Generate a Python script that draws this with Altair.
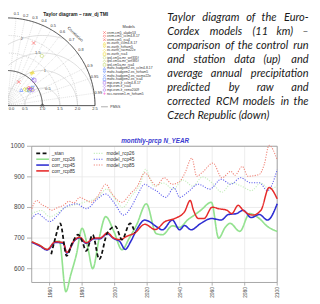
import altair as alt
import pandas as pd

# ================= Taylor diagram (top left) =================
TAYLOR_TITLE = "Taylor diagram \u2013 raw_dj TMI"
LEGEND_TITLE = "Models"
MODELS = [
    "cnrm-cm5_aladin53", "cnrm-cm5_cclm4-8-17", "cnrm-cm5_rca4",
    "ec-earth_cclm4-8-17", "ec-earth_hirham5", "ec-earth_racmo22e", "ec-earth_rca4",
    "ipsl-cm5a-mr_wrf331f", "ipsl-cm5a-mr_wrf381f", "ipsl-cm5a-mr_rca4",
    "mohc-hadgem2-es_cclm4-8-17", "mohc-hadgem2-es_hirham5",
    "mohc-hadgem2-es_racmo22e", "mohc-hadgem2-es_rca4",
    "mpi-esm-lr_cclm4-8-17", "mpi-esm-lr_rca4", "mpi-esm-lr_remo2009",
    "ncc-noresm1-m_hirham5",
]
MODEL_STD = [0.749, 0.795, 1.937, 1.196, 1.141, 0.679, 0.827, 1.725, 0.747,
             0.718, 0.598, 0.882, 1.052, 0.768, 1.054, 0.802, 0.844, 0.798]
MODEL_CORR = [0.434, 0.767, 0.387, 0.604, 0.608, 0.722, 0.822, 0.570, 0.777,
              0.780, 0.669, 0.816, 0.684, 0.820, 0.730, 0.810, 0.853, 0.789]
X_SHAPE = "M-1,-1L1,1M-1,1L1,-1"
PLUS_SHAPE = "M-1,0L1,0M0,-1L0,1"
MODEL_SHAPES = [X_SHAPE, "diamond", X_SHAPE,
                "triangle-up", "triangle-down", "diamond", "square",
                "circle", "diamond", "square",
                "triangle-up", "triangle-down", X_SHAPE, "square",
                "square", "diamond", "circle",
                PLUS_SHAPE]
MODEL_COLORS = (["#ff1a1a"] * 3 + ["#ecd200"] * 4 + ["#b2cf45"] * 3 +
                ["#2f66ff"] * 4 + ["#8a3fe8"] * 3 + ["#ff33cc"])
STD_TICKS = [0.0, 0.5, 1.0, 1.5, 2.0, 2.5]
STD_ARCS = [0.5, 1.5, 2.0]
REF_STD = 1.0
MAX_STD = 2.5
CORR_TICKS = [0.1, 0.2, 0.3, 0.4, 0.5, 0.6, 0.7, 0.8, 0.9, 0.95, 0.99]
RMS_ARCS = [0.5, 1.0, 1.5, 2.0]
RMS_LABELS = ["0.5", "1", "1.5", "2"]
RMS_LABEL_DEG = [72, 86, 95, 107]
REF_LABEL = "PMSS"

# ================= caption (top right) =================
CAPTION = [
    "Taylor diagram of the Euro-",
    "Cordex models (11 km) \u2013",
    "comparison of the control run",
    "and station data (up) and",
    "average annual precipitation",
    "predicted by raw and",
    "corrected RCM models in the",
    "Czech Republic (down)",
]

# ================= line chart (bottom) =================
CHART_TITLE = "monthly-prcp N_YEAR"
X_TICKS = [1960, 1980, 2000, 2020, 2040, 2060, 2080, 2100]
Y_TICKS = [600, 700, 800, 900, 1000]
X_DOMAIN = [1949, 2100]
Y_DOMAIN = [555, 1000]

STAN_YEARS = [1961, 1963.5, 1966.5, 1970.5, 1974, 1977.5, 1980, 1982.5, 1986.5,
              1990.5, 1995.5, 2000.5, 2004.5, 2009.5, 2012.5]
STAN_VALUES = [647, 700, 748, 642, 685, 711, 690, 658, 711, 631, 717, 738, 695, 748, 717]

CORR85_YEARS = [1949, 1954, 1958.5, 1963.5, 1968.5, 1970.5, 1975.5, 1978.5, 1982.5,
                1987.5, 1991, 1995.5, 1999.5, 2003.5, 2007.5, 2012.5, 2018.5, 2025,
                2031, 2037, 2043, 2046.5, 2048.5, 2051.5, 2055, 2060, 2064, 2069,
                2072, 2076, 2079, 2085, 2090, 2095, 2100]
CORR85_VALUES = [688, 676, 663, 688, 685, 653, 695, 703, 685, 700, 700, 717, 700, 695,
                 706, 717, 745, 728, 754, 764, 786, 823, 791, 764, 764, 801, 796, 791,
                 780, 807, 791, 775, 791, 865, 828]

CORR45_YEARS = [1949, 1954, 1958.5, 1963.5, 1968.5, 1970.5, 1975.5, 1978.5, 1982.5,
                1987.5, 1991, 1995.5, 1999.5, 2003, 2006.5, 2010, 2013.5, 2018.5,
                2021, 2025.5, 2029.5, 2035.5, 2040, 2043, 2047, 2053, 2059.5, 2065.5,
                2070, 2075, 2079, 2084, 2089, 2094, 2100]
CORR45_VALUES = [686, 674, 661, 686, 683, 651, 693, 701, 683, 698, 698, 714, 698, 690,
                 663, 690, 727, 759, 755, 738, 727, 759, 727, 741, 727, 748, 764, 759,
                 777, 780, 791, 767, 777, 759, 812]

CORR26_YEARS = [1949, 1954, 1958.5, 1963.5, 1966, 1970, 1973, 1976.5, 1980, 1983.5,
                1986.5, 1990.5, 1994.5, 1999.5, 2004.5, 2009, 2013.5, 2019.5, 2025.5,
                2029.5, 2035.5, 2040, 2045, 2049, 2053, 2059.5, 2064, 2068, 2071, 2077,
                2083, 2089, 2094, 2100]
CORR26_VALUES = [688, 676, 663, 688, 690, 525, 580, 647, 732, 669, 600, 700, 770, 722,
                 662, 700, 743, 812, 715, 711, 740, 735, 760, 775, 791, 817, 700, 735,
                 748, 722, 780, 764, 738, 722]

MODEL85_YEARS = [1949, 1952, 1955, 1958.5, 1961, 1965, 1968.5, 1972, 1975, 1978.5, 1982,
                 1985.5, 1990, 1994.5, 1998.5, 2004.5, 2009.5, 2014, 2018.5, 2023.5,
                 2025.5, 2030.5, 2035.5, 2040, 2043, 2047.5, 2050.5, 2054, 2060.5, 2066,
                 2071.5, 2074, 2078.5, 2082, 2089, 2092, 2095, 2100]
MODEL85_VALUES = [796, 823, 810, 801, 791, 800, 807, 820, 815, 833, 825, 817, 840, 876,
                  844, 817, 844, 870, 913, 881, 870, 897, 876, 885, 910, 961, 902, 915,
                  945, 897, 918, 905, 934, 902, 908, 940, 1003, 955]

MODEL45_YEARS = [1949, 1953, 1956, 1960, 1965, 1969.5, 1976.5, 1982.5, 1989.5, 1994.5,
                 1999.5, 2005.5, 2010, 2014, 2018.5, 2022, 2025.5, 2031.5, 2036.5, 2040,
                 2045, 2051.5, 2058.5, 2065.5, 2071.5, 2077.5, 2083.5, 2089, 2094, 2100]
MODEL45_VALUES = [764, 780, 768, 754, 775, 801, 812, 796, 828, 844, 817, 775, 800, 840,
                  876, 865, 855, 833, 865, 833, 850, 876, 860, 892, 876, 897, 881, 881,
                  855, 924]

MODEL26_YEARS = [1949, 1955, 1960, 1970, 1980, 1990, 1995, 2000, 2005, 2010, 2016, 2019,
                 2024, 2030, 2036, 2042, 2048, 2054, 2060, 2066, 2072, 2078, 2084, 2090,
                 2095, 2100]
MODEL26_VALUES = [780, 790, 770, 800, 815, 835, 860, 830, 800, 835, 880, 925, 870, 880,
                  860, 890, 870, 900, 880, 850, 880, 870, 855, 880, 860, 870]

CORR_SERIES = ["_stan", "corr_rcp26", "corr_rcp45", "corr_rcp85"]
CORR_COLORS = ["#111111", "#94e290", "#2e2ed2", "#e62a2a"]
CORR_DASH = [[4, 2.5], [1, 0], [1, 0], [1, 0]]
CORR_WIDTH = [1.8, 1.5, 1.6, 1.6]
MODEL_SERIES = ["model_rcp26", "model_rcp45", "model_rcp85"]
MODEL_LINE_COLORS = ["#c4eebc", "#6464ee", "#f08478"]
MODEL_DASH = [1.2, 1.4]
ALL_SERIES = CORR_SERIES + MODEL_SERIES
ALL_COLORS = CORR_COLORS + MODEL_LINE_COLORS

# ================= layout (chart pixels) =================
W, H = 312, 296
T_X = alt.Scale(domain=[0, MAX_STD], range=[-0.7, 89.3])
T_Y = alt.Scale(domain=[0, MAX_STD], range=[96.3, 6.3])
L_X = alt.Scale(domain=X_DOMAIN, range=[24.35, 276.3])
L_Y = alt.Scale(domain=Y_DOMAIN, range=[277.8, 138.0])
PX = alt.Scale(domain=[0, W], range=[0, W])
SERIES_COLOR = alt.Scale(domain=ALL_SERIES, range=ALL_COLORS)

GRID = "#e6e6e6"
TXT = "#333333"


def tx(f):
    return alt.X(f, type="quantitative", scale=T_X, axis=None)


def ty(f):
    return alt.Y(f, type="quantitative", scale=T_Y, axis=None)


layers = []

# ---- Taylor: std arcs (grid) ----
arc_rows = [{"r": r, "a": a} for r in STD_ARCS for a in range(0, 91, 2)]
layers.append(
    alt.Chart(pd.DataFrame(arc_rows)).mark_line(color="#bbbbbb", strokeWidth=0.6, strokeDash=[1, 1])
    .transform_calculate(x="datum.r*cos(datum.a*PI/180)", y="datum.r*sin(datum.a*PI/180)")
    .encode(x=tx("x"), y=ty("y"), detail="r:N", order="a:Q")
)
# ---- Taylor: RMS arcs ----
rms_rows = [{"r": r, "a": a} for r in RMS_ARCS for a in range(0, 181, 2)]
layers.append(
    alt.Chart(pd.DataFrame(rms_rows)).mark_line(color="#c8c8c8", strokeWidth=0.6)
    .transform_calculate(x="%f+datum.r*cos(datum.a*PI/180)" % REF_STD,
                         y="datum.r*sin(datum.a*PI/180)")
    .transform_filter("datum.x >= 0 && datum.x*datum.x + datum.y*datum.y <= %f" % (MAX_STD ** 2))
    .encode(x=tx("x"), y=ty("y"), detail="r:N", order="a:Q")
)
# ---- Taylor: radial correlation lines ----
layers.append(
    alt.Chart(pd.DataFrame({"c": CORR_TICKS})).mark_rule(color="#c0c0c0", strokeWidth=0.5, strokeDash=[1, 1])
    .transform_calculate(x0="0", y0="0", x1="%f*datum.c" % MAX_STD,
                         y1="%f*sqrt(1-datum.c*datum.c)" % MAX_STD)
    .encode(x=tx("x0"), y=ty("y0"), x2="x1:Q", y2="y1:Q")
)
# ---- Taylor: outer arc ----
outer_rows = [{"r": MAX_STD, "a": a} for a in range(0, 91)]
layers.append(
    alt.Chart(pd.DataFrame(outer_rows)).mark_line(color="#222222", strokeWidth=0.8)
    .transform_calculate(x="datum.r*cos(datum.a*PI/180)", y="datum.r*sin(datum.a*PI/180)")
    .encode(x=tx("x"), y=ty("y"), order="a:Q")
)
# ---- Taylor: reference arc ----
ref_rows = [{"r": REF_STD, "a": a} for a in range(0, 91)]
layers.append(
    alt.Chart(pd.DataFrame(ref_rows)).mark_line(color="#333333", strokeWidth=0.9)
    .transform_calculate(x="datum.r*cos(datum.a*PI/180)", y="datum.r*sin(datum.a*PI/180)")
    .encode(x=tx("x"), y=ty("y"), order="a:Q")
)
# ---- Taylor: axes ----
axes_df = pd.DataFrame({"x0": [0, 0], "y0": [0, 0], "x1": [MAX_STD, 0], "y1": [0, MAX_STD]})
layers.append(
    alt.Chart(axes_df).mark_rule(color="#222222", strokeWidth=0.8)
    .encode(x=tx("x0"), y=ty("y0"), x2="x1:Q", y2="y1:Q")
)
# ---- Taylor: x tick labels ----
layers.append(
    alt.Chart(pd.DataFrame({"s": STD_TICKS})).mark_text(fontSize=4.2, color=TXT, baseline="middle",
                                                       font="Liberation Sans")
    .transform_calculate(lx="max(datum.s, 0.12)")
    .encode(x=tx("lx"), y=alt.value(100), text=alt.Text("s:Q", format=".1f"))
)
# ---- Taylor: correlation labels ----
layers.append(
    alt.Chart(pd.DataFrame({"c": CORR_TICKS})).mark_text(fontSize=4, color=TXT, font="Liberation Sans")
    .transform_calculate(x="2.62*datum.c", y="2.62*sqrt(1-datum.c*datum.c)")
    .encode(x=tx("x"), y=ty("y"), text="c:N")
)
layers.append(
    alt.Chart(pd.DataFrame({"c": [0.69], "t": ["Correlation"]}))
    .mark_text(fontSize=4.2, color=TXT, angle=44, font="Liberation Sans")
    .transform_calculate(x="2.8*datum.c", y="2.8*sqrt(1-datum.c*datum.c)")
    .encode(x=tx("x"), y=ty("y"), text="t:N")
)
# ---- Taylor: RMS labels ----
layers.append(
    alt.Chart(pd.DataFrame({"r": RMS_ARCS, "t": RMS_LABELS, "a": RMS_LABEL_DEG}))
    .mark_text(fontSize=4.2, color="#555555", font="Liberation Sans")
    .transform_calculate(x="%f+datum.r*cos(datum.a*PI/180)" % REF_STD,
                         y="datum.r*sin(datum.a*PI/180)")
    .encode(x=tx("x"), y=ty("y"), text="t:N")
)
# ---- Taylor: observation point ----
layers.append(
    alt.Chart(pd.DataFrame({"s": [REF_STD], "z": [0.0]})).mark_point(
        filled=False, color="#222222", size=10, strokeWidth=0.7)
    .encode(x=tx("s"), y=ty("z"))
)
# ---- Taylor: model points ----
model_pts = pd.DataFrame({"model": MODELS, "std": MODEL_STD, "corr": MODEL_CORR,
                          "col": MODEL_COLORS, "shp": MODEL_SHAPES,
                          "idx": list(range(len(MODELS)))})
layers.append(
    alt.Chart(model_pts)
    .mark_point(filled=False, size=12, strokeWidth=0.7)
    .transform_calculate(x="datum.std*datum.corr", y="datum.std*sqrt(1-datum.corr*datum.corr)")
    .encode(x=tx("x"), y=ty("y"),
            stroke=alt.Stroke("col:N", scale=None),
            shape=alt.Shape("shp:N", scale=None))
)
# ---- Taylor legend ----
TL_Y = alt.Scale(domain=[0, len(MODELS) - 1], range=[21.3, 84.0])
layers.append(
    alt.Chart(model_pts).mark_point(filled=False, size=7, strokeWidth=0.6)
    .encode(x=alt.value(99), y=alt.Y("idx:Q", scale=TL_Y, axis=None),
            stroke=alt.Stroke("col:N", scale=None), shape=alt.Shape("shp:N", scale=None))
)
layers.append(
    alt.Chart(model_pts).mark_text(fontSize=3.4, color=TXT, align="left", baseline="middle",
                                   font="Liberation Sans")
    .encode(x=alt.value(101.5), y=alt.Y("idx:Q", scale=TL_Y, axis=None), text="model:N")
)
layers.append(
    alt.Chart(pd.DataFrame({"t": [LEGEND_TITLE]})).mark_text(
        fontSize=4, color=TXT, baseline="middle", font="Liberation Sans")
    .encode(x=alt.value(124), y=alt.value(15.3), text="t:N")
)
layers.append(
    alt.Chart(pd.DataFrame({"t": [REF_LABEL]})).mark_rule(color="#888888", strokeWidth=0.7)
    .encode(x=alt.value(95.5), x2=alt.value(102.5), y=alt.value(97.5))
)
layers.append(
    alt.Chart(pd.DataFrame({"t": [REF_LABEL]})).mark_text(
        fontSize=3.6, color=TXT, align="left", baseline="middle", font="Liberation Sans")
    .encode(x=alt.value(105), y=alt.value(97.5), text="t:N")
)
# ---- Taylor title ----
layers.append(
    alt.Chart(pd.DataFrame({"t": [TAYLOR_TITLE]})).mark_text(
        fontSize=5, fontWeight="bold", color="#222222", baseline="top", font="Liberation Sans")
    .encode(x=alt.value(69.5), y=alt.value(0.5), text="t:N")
)

# ================= caption =================
CAP_FS = 11.3
CAP_L, CAP_R = 163.5, 308.5
CAP_TOP, CAP_BOTTOM = 9.0, 110.3
CHAR_EM = {"a": .49, "b": .55, "c": .45, "d": .55, "e": .51, "f": .31, "g": .49, "h": .55,
           "i": .24, "j": .24, "k": .50, "l": .24, "m": .83, "n": .55, "o": .55, "p": .55,
           "q": .55, "r": .36, "s": .41, "t": .33, "u": .55, "v": .48, "w": .75, "x": .48,
           "y": .48, "z": .44, "-": .35, "\u2013": .5, "(": .30, ")": .30, " ": .26,
           "T": .53, "C": .63, "E": .54, "R": .60, "M": .83}


def tw(s):
    return sum(CHAR_EM.get(ch, .55 if ch.isdigit() else .6) for ch in s) * CAP_FS


left_words, right_words = [], []
for i, line in enumerate(CAPTION):
    words = line.split(" ")
    if i < len(CAPTION) - 1 and len(words) > 1:
        widths = [tw(w) for w in words]
        gap = (CAP_R - CAP_L - sum(widths)) / (len(words) - 1)
        xpos = CAP_L
        for j, w in enumerate(words):
            if j == len(words) - 1:
                right_words.append({"w": w, "line": i, "px": CAP_R})
            else:
                left_words.append({"w": w, "line": i, "px": xpos})
            xpos += widths[j] + gap
    else:
        left_words.append({"w": line, "line": i, "px": CAP_L})

CAP_Y = alt.Scale(domain=[0, len(CAPTION) - 1], range=[CAP_TOP, CAP_BOTTOM])
for rows, al in ((left_words, "left"), (right_words, "right")):
    layers.append(
        alt.Chart(pd.DataFrame(rows)).mark_text(
            font="Lato", fontStyle="italic", fontSize=CAP_FS, color="#1a1a1a",
            align=al, baseline="alphabetic")
        .encode(x=alt.X("px:Q", scale=PX, axis=None),
                y=alt.Y("line:Q", scale=CAP_Y, axis=None), text="w:N")
    )


# ================= line chart =================
def lx(f):
    return alt.X(f, type="quantitative", scale=L_X, axis=None)


def ly(f):
    return alt.Y(f, type="quantitative", scale=L_Y, axis=None)


layers.append(
    alt.Chart(pd.DataFrame({"yr": X_TICKS, "lo": Y_DOMAIN[0], "hi": Y_DOMAIN[1]}))
    .mark_rule(color=GRID, strokeWidth=0.8).encode(x=lx("yr"), y=ly("lo"), y2="hi:Q")
)
layers.append(
    alt.Chart(pd.DataFrame({"v": Y_TICKS, "lo": X_DOMAIN[0], "hi": X_DOMAIN[1]}))
    .mark_rule(color=GRID, strokeWidth=0.8).encode(y=ly("v"), x=lx("lo"), x2="hi:Q")
)
layers.append(
    alt.Chart(pd.DataFrame({"x0": [X_DOMAIN[0]], "x1": [X_DOMAIN[1]],
                            "y0": [Y_DOMAIN[0]], "y1": [Y_DOMAIN[1]]}))
    .mark_rect(fill="white", fillOpacity=0, stroke="#9a9a9a", strokeWidth=0.9)
    .encode(x=lx("x0"), x2="x1:Q", y=ly("y0"), y2="y1:Q")
)
layers.append(
    alt.Chart(pd.DataFrame({"v": Y_TICKS})).mark_rule(color="#9a9a9a", strokeWidth=0.8)
    .encode(y=ly("v"), x=alt.value(19.5), x2=alt.value(24.35))
)
layers.append(
    alt.Chart(pd.DataFrame({"yr": X_TICKS})).mark_rule(color="#9a9a9a", strokeWidth=0.8)
    .encode(x=lx("yr"), y=alt.value(277.8), y2=alt.value(281))
)
layers.append(
    alt.Chart(pd.DataFrame({"v": Y_TICKS})).mark_text(
        fontSize=6.5, color="#444444", align="right", baseline="middle", font="Liberation Sans")
    .encode(y=ly("v"), x=alt.value(17), text="v:Q")
)
layers.append(
    alt.Chart(pd.DataFrame({"yr": X_TICKS})).mark_text(
        fontSize=5, color="#444444", align="right", baseline="middle", angle=270,
        font="Liberation Sans")
    .encode(x=lx("yr"), y=alt.value(282.5), text="yr:Q")
)


def long_df(items):
    rows = []
    for name, yrs, vals in items:
        for yv, vv in zip(yrs, vals):
            rows.append({"series": name, "year": yv, "value": vv})
    return pd.DataFrame(rows)


model_df = long_df((("model_rcp26", MODEL26_YEARS, MODEL26_VALUES),
                    ("model_rcp45", MODEL45_YEARS, MODEL45_VALUES),
                    ("model_rcp85", MODEL85_YEARS, MODEL85_VALUES)))
corr_df = long_df((("corr_rcp26", CORR26_YEARS, CORR26_VALUES),
                   ("corr_rcp45", CORR45_YEARS, CORR45_VALUES),
                   ("corr_rcp85", CORR85_YEARS, CORR85_VALUES),
                   ("_stan", STAN_YEARS, STAN_VALUES)))

layers.append(
    alt.Chart(model_df).mark_line(interpolate="monotone", strokeDash=MODEL_DASH, strokeWidth=1.1)
    .encode(x=lx("year"), y=ly("value"),
            color=alt.Color("series:N", scale=SERIES_COLOR, legend=None))
)
layers.append(
    alt.Chart(corr_df).mark_line(interpolate="monotone")
    .encode(x=lx("year"), y=ly("value"),
            color=alt.Color("series:N", scale=SERIES_COLOR, legend=None),
            strokeDash=alt.StrokeDash("series:N", scale=alt.Scale(domain=CORR_SERIES, range=CORR_DASH),
                                      legend=None),
            strokeWidth=alt.StrokeWidth("series:N", scale=alt.Scale(domain=CORR_SERIES, range=CORR_WIDTH),
                                        legend=None))
)

# ---- line chart legend (two columns) ----
LG_Y = alt.Scale(domain=[0, 3], range=[145.3, 163.3])
corr_leg = pd.DataFrame({"series": CORR_SERIES, "col": CORR_COLORS, "w": CORR_WIDTH,
                         "idx": list(range(len(CORR_SERIES)))})
model_leg = pd.DataFrame({"series": MODEL_SERIES, "col": MODEL_LINE_COLORS,
                          "idx": list(range(len(MODEL_SERIES)))})
layers.append(
    alt.Chart(corr_leg).transform_filter("datum.idx == 0")
    .mark_rule(strokeDash=[4, 2.5], strokeWidth=1.8)
    .encode(x=alt.value(29), x2=alt.value(42), y=alt.Y("idx:Q", scale=LG_Y, axis=None),
            color=alt.Color("col:N", scale=None))
)
layers.append(
    alt.Chart(corr_leg).transform_filter("datum.idx > 0")
    .mark_rule(strokeWidth=1.6)
    .encode(x=alt.value(29), x2=alt.value(42), y=alt.Y("idx:Q", scale=LG_Y, axis=None),
            color=alt.Color("col:N", scale=None))
)
layers.append(
    alt.Chart(corr_leg).mark_text(fontSize=5, color="#333333", align="left", baseline="middle",
                                  font="Liberation Sans")
    .encode(x=alt.value(45), y=alt.Y("idx:Q", scale=LG_Y, axis=None), text="series:N")
)
layers.append(
    alt.Chart(model_leg).mark_rule(strokeDash=MODEL_DASH, strokeWidth=1.1)
    .encode(x=alt.value(88), x2=alt.value(98), y=alt.Y("idx:Q", scale=LG_Y, axis=None),
            color=alt.Color("col:N", scale=None))
)
layers.append(
    alt.Chart(model_leg).mark_text(fontSize=5, color="#333333", align="left", baseline="middle",
                                   font="Liberation Sans")
    .encode(x=alt.value(101), y=alt.Y("idx:Q", scale=LG_Y, axis=None), text="series:N")
)
layers.append(
    alt.Chart(pd.DataFrame({"t": [CHART_TITLE]})).mark_text(
        fontSize=6.5, fontWeight="bold", fontStyle="italic", color="#3a3ad0",
        baseline="middle", font="Liberation Sans")
    .encode(x=alt.value(151), y=alt.value(132.5), text="t:N")
)

chart = (
    alt.layer(*layers)
    .resolve_scale(x="independent", y="independent")
    .properties(width=W, height=H, padding=0, background="white",
                autosize=alt.AutoSizeParams(type="none"))
    .configure_view(strokeWidth=0)
)
chart.save("out.html", embed_options={"renderer": "svg", "actions": False})
